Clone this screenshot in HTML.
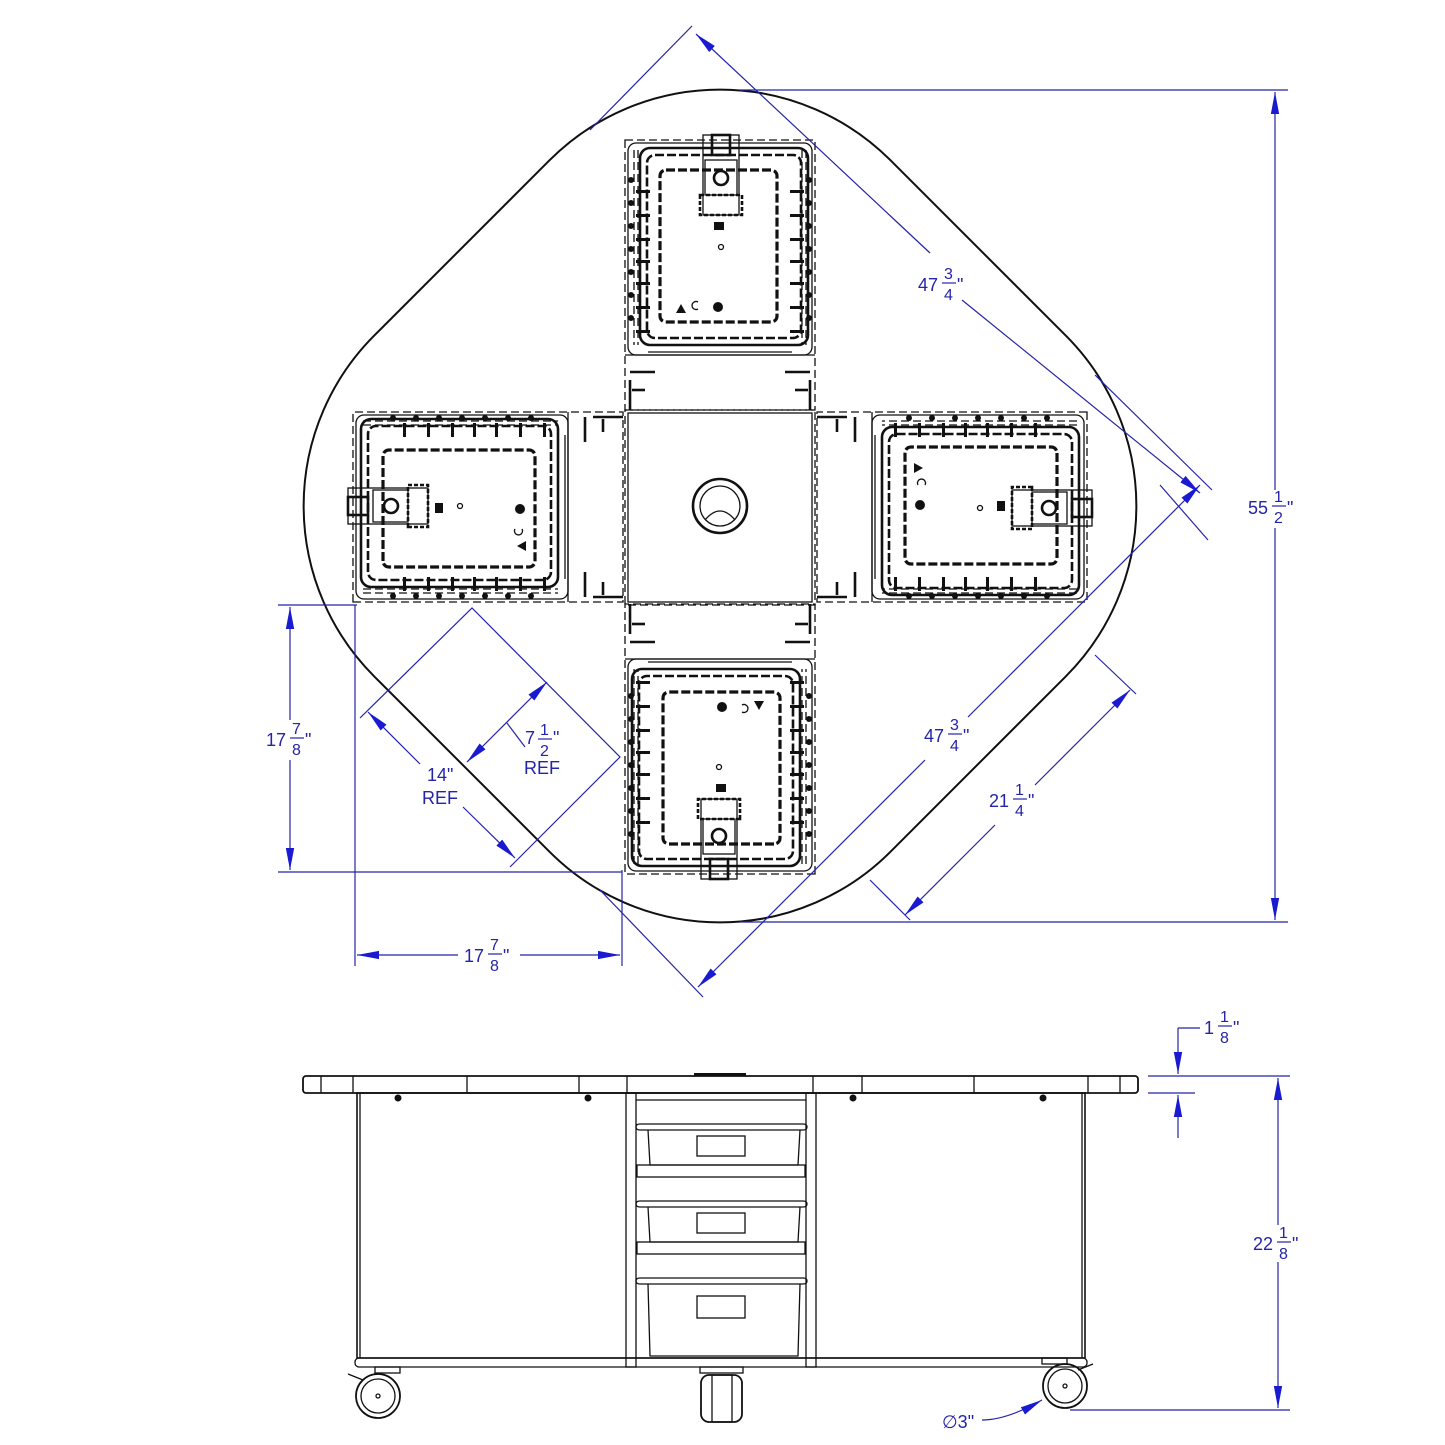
<!DOCTYPE html>
<html><head><meta charset="utf-8"><style>
html,body{margin:0;padding:0;background:#fff}
svg{display:block}
.b{fill:none;stroke:#111;stroke-width:1.3}
.bt{fill:none;stroke:#111;stroke-width:2.6}
.d{fill:none;stroke:#111;stroke-width:1.3;stroke-dasharray:8 4}
.dd{fill:none;stroke:#111;stroke-width:2.6;stroke-dasharray:9 3}
.u{fill:none;stroke:#2424a8;stroke-width:1.2}
.t{fill:#2424a8;font-family:"Liberation Sans",sans-serif;font-size:18px}
.ah{fill:#1a1ad0}
</style></head><body>
<svg width="1445" height="1445" viewBox="0 0 1445 1445" xmlns="http://www.w3.org/2000/svg">
<defs>
<marker id="ar" viewBox="0 0 20 8" refX="20" refY="4" markerWidth="22" markerHeight="9" markerUnits="userSpaceOnUse" orient="auto-start-reverse" preserveAspectRatio="none"><path d="M0,0.3 L20,4 L0,7.7 z" class="ah"/></marker>
<g id="cab">
  <rect x="625" y="140" width="190" height="270" class="d"/>
  <rect x="628" y="143" width="184" height="212" rx="8" class="b"/>
  <rect x="640" y="148" width="168" height="197" rx="10" class="bt"/>
  <rect x="647" y="155" width="154" height="183" rx="8" class="dd"/>
  <rect x="660" y="170" width="117" height="152" rx="6" class="dd" style="stroke-width:3.2"/>
  <line x1="634" y1="150" x2="634" y2="345" class="d"/>
  <line x1="806" y1="150" x2="806" y2="345" class="d"/>
  <line x1="638" y1="150" x2="638" y2="345" class="d"/>
  <line x1="802" y1="150" x2="802" y2="345" class="d"/>
  <g fill="#111">
    <circle cx="631" cy="180" r="3"/><circle cx="631" cy="203" r="3"/><circle cx="631" cy="226" r="3"/><circle cx="631" cy="249" r="3"/><circle cx="631" cy="272" r="3"/><circle cx="631" cy="295" r="3"/><circle cx="631" cy="318" r="3"/>
    <circle cx="809" cy="180" r="3"/><circle cx="809" cy="203" r="3"/><circle cx="809" cy="226" r="3"/><circle cx="809" cy="249" r="3"/><circle cx="809" cy="272" r="3"/><circle cx="809" cy="295" r="3"/><circle cx="809" cy="318" r="3"/>
    <rect x="636" y="190" width="14" height="3"/><rect x="636" y="214" width="14" height="3"/><rect x="636" y="238" width="14" height="3"/><rect x="636" y="260" width="14" height="3"/><rect x="636" y="282" width="14" height="3"/><rect x="636" y="306" width="14" height="3"/><rect x="636" y="330" width="14" height="3"/>
    <rect x="790" y="190" width="14" height="3"/><rect x="790" y="214" width="14" height="3"/><rect x="790" y="238" width="14" height="3"/><rect x="790" y="260" width="14" height="3"/><rect x="790" y="282" width="14" height="3"/><rect x="790" y="306" width="14" height="3"/><rect x="790" y="330" width="14" height="3"/>
    <rect x="714" y="222" width="10" height="8"/>
    <circle cx="718" cy="307" r="5"/>
    <path d="M676,313 l5,-9 l5,9 z"/>
  </g>
  <circle cx="721" cy="247" r="2.5" class="b"/>
  <path d="M698,302 a4,4 0 1,0 0,7" class="b"/>
  <rect x="703" y="135" width="36" height="80" class="b"/>
  <rect x="712" y="135" width="18" height="20" class="bt"/>
  <circle cx="721" cy="178" r="7" class="bt"/>
  <rect x="705" y="160" width="32" height="35" class="b"/>
  <rect x="700" y="195" width="42" height="20" class="bt" style="stroke-dasharray:4 2"/>
  <line x1="648" y1="352" x2="792" y2="352" class="b"/>
  <line x1="625" y1="355" x2="815" y2="355" class="b"/>
  <g class="bt"><line x1="630" y1="372" x2="655" y2="372"/><line x1="785" y1="372" x2="810" y2="372"/><line x1="632" y1="390" x2="645" y2="390"/><line x1="795" y1="390" x2="808" y2="390"/></g>
  <line x1="630" y1="380" x2="630" y2="410" class="bt"/><line x1="810" y1="380" x2="810" y2="410" class="bt"/>
</g>
</defs>

<!-- top view -->
<rect x="-365" y="-365" width="730" height="730" rx="241" transform="translate(720,506) rotate(45)" fill="none" stroke="#111" stroke-width="2"/>
<use href="#cab"/>
<use href="#cab" transform="rotate(90 720 507)"/>
<use href="#cab" transform="rotate(180 720 507)"/>
<use href="#cab" transform="rotate(270 720 507)"/>
<rect x="625" y="410" width="190" height="195" class="d"/>
<rect x="628" y="413" width="184" height="189" class="b"/>
<circle cx="720" cy="506" r="27" class="bt"/>
<circle cx="720" cy="506" r="20" class="b"/>
<path d="M705,520 q15,-18 30,0" class="b"/>

<!-- dimensions top -->
<g class="u">
<line x1="590" y1="130" x2="692" y2="26"/>
<line x1="1095" y1="375" x2="1212" y2="490"/>
<line x1="696" y1="34" x2="930" y2="253" marker-start="url(#ar)"/>
<line x1="962" y1="300" x2="1200" y2="493" marker-end="url(#ar)"/>
<line x1="1208" y1="540" x2="1160" y2="485"/>
<line x1="600" y1="890" x2="703" y2="997"/>
<line x1="1200" y1="485" x2="968" y2="717" marker-start="url(#ar)"/>
<line x1="925" y1="760" x2="698" y2="987" marker-end="url(#ar)"/>
<line x1="740" y1="90" x2="1288" y2="90"/>
<line x1="740" y1="922" x2="1288" y2="922"/>
<line x1="1275" y1="92" x2="1275" y2="490" marker-start="url(#ar)"/>
<line x1="1275" y1="528" x2="1275" y2="920" marker-end="url(#ar)"/>
<line x1="278" y1="605" x2="357" y2="605"/>
<line x1="278" y1="872" x2="622" y2="872"/>
<line x1="290" y1="607" x2="290" y2="720" marker-start="url(#ar)"/>
<line x1="290" y1="760" x2="290" y2="870" marker-end="url(#ar)"/>
<line x1="355" y1="605" x2="355" y2="966"/>
<line x1="622" y1="870" x2="622" y2="966"/>
<line x1="357" y1="955" x2="458" y2="955" marker-start="url(#ar)"/>
<line x1="520" y1="955" x2="620" y2="955" marker-end="url(#ar)"/>
<line x1="1095" y1="655" x2="1136" y2="694"/>
<line x1="870" y1="880" x2="910" y2="920"/>
<line x1="1130" y1="690" x2="1035" y2="785" marker-start="url(#ar)"/>
<line x1="995" y1="825" x2="905" y2="915" marker-end="url(#ar)"/>
<polyline points="360,718 472,608 620,757 510,867"/>
<line x1="368" y1="712" x2="420" y2="764" marker-start="url(#ar)"/>
<line x1="463" y1="807" x2="515" y2="858" marker-end="url(#ar)"/>
<line x1="547" y1="682" x2="467" y2="762" marker-start="url(#ar)" marker-end="url(#ar)"/>
<line x1="507" y1="723" x2="525" y2="747"/>
</g>
<g class="t">
<text x="918" y="291">47</text><text x="944" y="279" font-size="16">3</text><line x1="942" y1="283" x2="956" y2="283" class="u"/><text x="944" y="300" font-size="16">4</text><text x="957" y="291">"</text>
<text x="924" y="742">47</text><text x="950" y="730" font-size="16">3</text><line x1="948" y1="734" x2="962" y2="734" class="u"/><text x="950" y="751" font-size="16">4</text><text x="963" y="742">"</text>
<text x="1248" y="514">55</text><text x="1274" y="502" font-size="16">1</text><line x1="1272" y1="506" x2="1286" y2="506" class="u"/><text x="1274" y="523" font-size="16">2</text><text x="1287" y="514">"</text>
<text x="266" y="746">17</text><text x="292" y="734" font-size="16">7</text><line x1="290" y1="738" x2="304" y2="738" class="u"/><text x="292" y="755" font-size="16">8</text><text x="305" y="746">"</text>
<text x="464" y="962">17</text><text x="490" y="950" font-size="16">7</text><line x1="488" y1="954" x2="502" y2="954" class="u"/><text x="490" y="971" font-size="16">8</text><text x="503" y="962">"</text>
<text x="989" y="807">21</text><text x="1015" y="795" font-size="16">1</text><line x1="1013" y1="799" x2="1027" y2="799" class="u"/><text x="1015" y="816" font-size="16">4</text><text x="1028" y="807">"</text>
<text x="525" y="744">7</text><text x="540" y="735" font-size="16">1</text><line x1="538" y1="739" x2="552" y2="739" class="u"/><text x="540" y="756" font-size="16">2</text><text x="553" y="744">"</text>
<text x="524" y="774">REF</text>
<text x="427" y="781">14"</text><text x="422" y="804">REF</text>
</g>

<!-- side view -->
<g class="b">
<rect x="303" y="1076" width="835" height="17" rx="3" stroke-width="1.8"/>
<line x1="321" y1="1076" x2="321" y2="1093"/><line x1="353" y1="1076" x2="353" y2="1093"/><line x1="467" y1="1076" x2="467" y2="1093"/><line x1="579" y1="1076" x2="579" y2="1093"/><line x1="627" y1="1076" x2="627" y2="1093"/>
<line x1="813" y1="1076" x2="813" y2="1093"/><line x1="862" y1="1076" x2="862" y2="1093"/><line x1="974" y1="1076" x2="974" y2="1093"/><line x1="1088" y1="1076" x2="1088" y2="1093"/><line x1="1120" y1="1076" x2="1120" y2="1093"/>
<rect x="357" y="1093" width="728" height="265" stroke-width="1.6"/>
<line x1="360" y1="1093" x2="360" y2="1358"/><line x1="1082" y1="1093" x2="1082" y2="1358"/>
<rect x="355" y="1358" width="732" height="9" rx="4"/>
<rect x="626" y="1093" width="10" height="274"/><rect x="806" y="1093" width="10" height="274"/>
<line x1="636" y1="1100" x2="806" y2="1100"/>
<path d="M640,1124 h163 q4,0 4,3 q0,3 -4,3 h-163 q-4,0 -4,-3 q0,-3 4,-3z"/>
<path d="M648,1130 l2,35 h148 l2,-35"/><rect x="637" y="1165" width="168" height="12"/>
<path d="M640,1201 h163 q4,0 4,3 q0,3 -4,3 h-163 q-4,0 -4,-3 q0,-3 4,-3z"/>
<path d="M648,1207 l2,35 h148 l2,-35"/><rect x="637" y="1242" width="168" height="12"/>
<path d="M640,1278 h163 q4,0 4,3 q0,3 -4,3 h-163 q-4,0 -4,-3 q0,-3 4,-3z"/>
<path d="M648,1284 l2,72 h148 l2,-72"/>
<rect x="697" y="1136" width="48" height="20"/><rect x="697" y="1213" width="48" height="20"/><rect x="697" y="1296" width="48" height="22"/>
<circle cx="378" cy="1396" r="22" stroke-width="1.8"/><circle cx="378" cy="1396" r="17"/><circle cx="378" cy="1396" r="2"/>
<path d="M348,1374 l15,6"/><rect x="375" y="1367" width="25" height="6"/>
<circle cx="1065" cy="1386" r="22" stroke-width="1.8"/><circle cx="1065" cy="1386" r="17"/><circle cx="1065" cy="1386" r="2"/>
<path d="M1093,1364 l-15,6"/><rect x="1042" y="1358" width="25" height="6"/>
<rect x="701" y="1375" width="41" height="47" rx="8" stroke-width="1.8"/><rect x="712" y="1375" width="20" height="47"/><rect x="700" y="1367" width="43" height="6"/>
</g>
<g fill="#111"><circle cx="398" cy="1098" r="3.5"/><circle cx="588" cy="1098" r="3.5"/><circle cx="853" cy="1098" r="3.5"/><circle cx="1043" cy="1098" r="3.5"/><rect x="694" y="1073" width="52" height="3"/></g>

<g class="u">
<line x1="1148" y1="1076" x2="1290" y2="1076"/>
<line x1="1148" y1="1093" x2="1195" y2="1093"/>
<line x1="1200" y1="1028" x2="1178" y2="1028"/>
<line x1="1178" y1="1028" x2="1178" y2="1074" marker-end="url(#ar)"/>
<line x1="1178" y1="1138" x2="1178" y2="1095" marker-end="url(#ar)"/>
<line x1="1070" y1="1410" x2="1290" y2="1410"/>
<line x1="1278" y1="1078" x2="1278" y2="1225" marker-start="url(#ar)"/>
<line x1="1278" y1="1262" x2="1278" y2="1408" marker-end="url(#ar)"/>
<path d="M982,1420 q25,0 60,-20" marker-end="url(#ar)"/>
</g>
<g class="t">
<text x="1204" y="1034">1</text><text x="1220" y="1022" font-size="16">1</text><line x1="1218" y1="1026" x2="1232" y2="1026" class="u"/><text x="1220" y="1043" font-size="16">8</text><text x="1233" y="1034">"</text>
<text x="1253" y="1250">22</text><text x="1279" y="1238" font-size="16">1</text><line x1="1277" y1="1242" x2="1291" y2="1242" class="u"/><text x="1279" y="1259" font-size="16">8</text><text x="1292" y="1250">"</text>
<text x="942" y="1428">∅3"</text>
</g>
</svg>
</body></html>
